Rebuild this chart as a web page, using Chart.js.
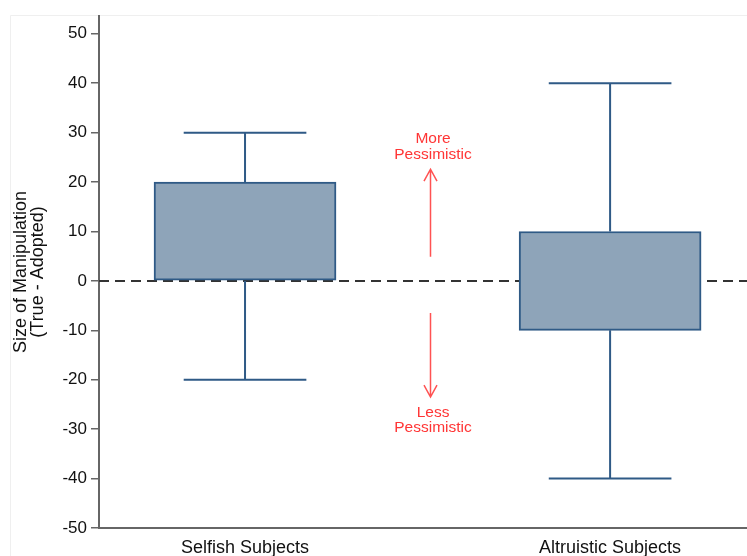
<!DOCTYPE html>
<html>
<head>
<meta charset="utf-8">
<script src="https://cdn.jsdelivr.net/npm/chart.js@4.4.1/dist/chart.umd.min.js"></script>
<style>
  html, body { margin: 0; padding: 0; background: #fff; }
  #wrap { width: 747px; height: 556px; position: relative; }
</style>
</head>
<body>
<div id="wrap"><canvas id="c" width="747" height="556"></canvas></div>
<script>
// Box plot summary per group
const categories  = ['Selfish Subjects', 'Altruistic Subjects'];
const categoryPos = [1, 2];
const whiskerLow  = [-20, -40];
const boxLow      = [0, -10];
const boxHigh     = [20, 10];
const whiskerHigh = [30, 40];

// Value axis ticks
const yTickValues = [-50, -40, -30, -20, -10, 0, 10, 20, 30, 40, 50];
const referenceValue = 0;

// Direction notes between the groups
const arrowX = 1.507;
const noteX = 1.515;
const upArrow = [4.9, 22.6];      // tail, tip
const downArrow = [-6.5, -23.5];  // tail, tip
const upNote = ['More', 'Pessimistic'];
const upNoteY = [28.7, 25.5];
const downNote = ['Less', 'Pessimistic'];
const downNoteY = [-26.7, -29.8];

const X_MIN = 0.6, X_MAX = 2.375;
const CAP_HALF = 0.168;
const BOX_EDGE = '#2f5a86';
const BOX_FILL = '#8ea4b9';
const NOTE_RED = '#ff3535';
const FONT = '"Liberation Sans", Arial, sans-serif';

// whisker segments, split with null points
const whiskerData = [];
categoryPos.forEach((x, i) => {
  whiskerData.push({x, y: boxHigh[i]}, {x, y: whiskerHigh[i]}, {x, y: null});
  whiskerData.push({x: x - CAP_HALF, y: whiskerHigh[i]}, {x: x + CAP_HALF, y: whiskerHigh[i]}, {x, y: null});
  whiskerData.push({x, y: boxLow[i]}, {x, y: whiskerLow[i]}, {x, y: null});
  whiskerData.push({x: x - CAP_HALF, y: whiskerLow[i]}, {x: x + CAP_HALF, y: whiskerLow[i]}, {x, y: null});
});

const notesPlugin = {
  id: 'notes',
  beforeDraw(chart) {
    const ctx = chart.ctx;
    ctx.save();
    ctx.strokeStyle = '#efefef';
    ctx.lineWidth = 1;
    ctx.beginPath();
    ctx.moveTo(10.5, 556);
    ctx.lineTo(10.5, 15.5);
    ctx.lineTo(747, 15.5);
    ctx.stroke();
    ctx.restore();
  },
  afterDatasetsDraw(chart) {
    const {ctx, scales: {x, y}} = chart;
    const ax = Math.round(x.getPixelForValue(arrowX)) + 0.5;
    ctx.save();
    ctx.strokeStyle = '#ff5252';
    ctx.lineWidth = 1.5;
    const drawArrow = (tail, tip) => {
      const y0 = y.getPixelForValue(tail), y1 = y.getPixelForValue(tip);
      const dir = y1 < y0 ? 1 : -1;
      ctx.beginPath();
      ctx.moveTo(ax, y0);
      ctx.lineTo(ax, y1);
      ctx.moveTo(ax - 6.5, y1 + dir * 12);
      ctx.lineTo(ax, y1);
      ctx.lineTo(ax + 6.5, y1 + dir * 12);
      ctx.stroke();
    };
    drawArrow(upArrow[0], upArrow[1]);
    drawArrow(downArrow[0], downArrow[1]);
    ctx.fillStyle = NOTE_RED;
    ctx.font = '15.5px ' + FONT;
    ctx.textAlign = 'center';
    ctx.textBaseline = 'middle';
    const nx = x.getPixelForValue(noteX);
    upNote.forEach((t, i) => ctx.fillText(t, nx, y.getPixelForValue(upNoteY[i])));
    downNote.forEach((t, i) => ctx.fillText(t, nx, y.getPixelForValue(downNoteY[i])));
    ctx.restore();
  }
};

new Chart(document.getElementById('c'), {
  type: 'bar',
  data: {
    datasets: [
      {
        type: 'line',
        data: [{x: X_MIN, y: referenceValue}, {x: X_MAX, y: referenceValue}],
        borderColor: '#333',
        borderWidth: 2,
        borderDash: [10, 6],
        pointRadius: 0,
        order: 5
      },
      {
        type: 'bar',
        data: categoryPos.map((x, i) => ({x, y: [boxLow[i], boxHigh[i]]})),
        backgroundColor: BOX_FILL,
        borderColor: BOX_EDGE,
        borderWidth: 2,
        borderSkipped: false,
        barThickness: 182,
        order: 2
      },
      {
        type: 'line',
        data: whiskerData,
        borderColor: BOX_EDGE,
        borderWidth: 2,
        pointRadius: 0,
        spanGaps: false,
        tension: 0,
        order: 1
      }
    ]
  },
  options: {
    responsive: false,
    animation: false,
    devicePixelRatio: 1,
    layout: { padding: { top: 16, left: 0, right: 0, bottom: 0 } },
    plugins: { legend: { display: false }, tooltip: { enabled: false } },
    scales: {
      x: {
        type: 'linear',
        min: X_MIN,
        max: X_MAX,
        offset: false,
        afterBuildTicks: s => { s.ticks = categoryPos.map(v => ({value: v})); },
        afterFit: s => { s.height = 28; s.paddingLeft = 0; s.paddingRight = 0; },
        ticks: {
          callback: v => categories[categoryPos.indexOf(v)],
          font: { family: FONT, size: 18 },
          color: '#111',
          padding: 9,
          maxRotation: 0,
          autoSkip: false
        },
        grid: { display: false, drawTicks: false },
        border: { display: true, color: '#666', width: 2 }
      },
      y: {
        type: 'linear',
        min: -50,
        max: 53.6,
        afterBuildTicks: s => { s.ticks = yTickValues.map(v => ({value: v})); },
        afterFit: s => { s.width = 99; s.paddingTop = 0; s.paddingBottom = 0; },
        ticks: {
          font: { family: FONT, size: 17 },
          color: '#111',
          padding: 4
        },
        grid: { drawOnChartArea: false, drawTicks: true, tickLength: 8, color: '#666', lineWidth: 1.5 },
        border: { display: true, color: '#666', width: 2 },
        title: {
          display: true,
          text: ['Size of Manipulation', '(True - Adopted)'],
          font: { family: FONT, size: 18, lineHeight: '17px' },
          color: '#111',
          padding: { top: 12.5, bottom: 0 }
        }
      }
    }
  },
  plugins: [notesPlugin]
});
</script>
</body>
</html>
